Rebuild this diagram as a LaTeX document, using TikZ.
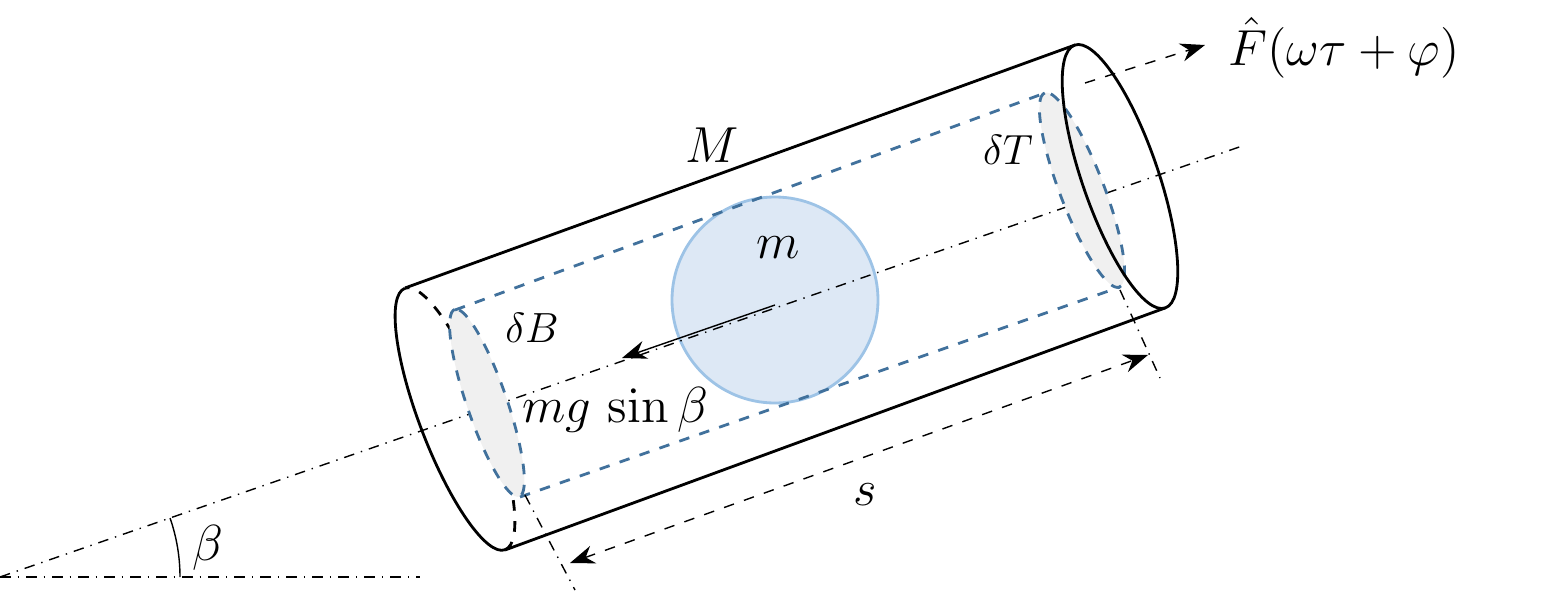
\documentclass[tikz,border=0pt]{standalone}
\usepackage{amsmath}
\usetikzlibrary{arrows.meta,positioning}
\definecolor{ballfill}{HTML}{DDE8F5}
\definecolor{balledge}{HTML}{9DC3E6}
\definecolor{innerblue}{HTML}{41719C}
\definecolor{capgray}{HTML}{F0F0F0}
\tikzset{
  axisline/.style={thin,dash dot},
  innerline/.style={innerblue,dashed,thick},
  outerline/.style={thick},
  lbl/.style={inner sep=0pt,font=\Large},
  dimarrow/.style={thin,dashed,-{Stealth[length=7pt]}}
}
\begin{document}
\begin{tikzpicture}[x=0.01cm,y=0.01cm]
\useasboundingbox (0,0) rectangle (1547,593);
% ball
\coordinate (ball) at (775,293);
\draw[fill=ballfill,draw=balledge,thick] (ball) circle[radius=103];

% axis and ground
\coordinate (o) at (0,16);
\coordinate (axend) at (1245,448);
\coordinate (gnd) at (420,16);
\draw[axisline] (o) -- (axend);
\draw[axisline] (o) -- (gnd);
\draw (180,16) arc[start angle=0,end angle=19.1,radius=180];
\node[lbl] (beta) at (208,45) {$\beta$};

% hidden half of the bottom rim
\begin{scope}[shift={(455,174)},rotate=111]
\draw[outerline,dashed] (180:140) arc[start angle=180,end angle=360,x radius=140,y radius=35];
\end{scope}

% inner caps
\begin{scope}[shift={(487,190)},rotate=109]
\fill[capgray] (0,0) ellipse[x radius=99,y radius=20];
\draw[innerline] (0,0) ellipse[x radius=99,y radius=20];
\end{scope}
\begin{scope}[shift={(1082,403)},rotate=111]
\fill[capgray] (0,0) ellipse[x radius=104,y radius=22];
\draw[innerline] (0,0) ellipse[x radius=104,y radius=22];
\end{scope}
\coordinate (ia) at (455,283);
\coordinate (ib) at (1045,500);
\coordinate (ic) at (520,96);
\coordinate (id) at (1120,306);
\draw[innerline] (ia) -- (ib);
\draw[innerline] (ic) -- (id);

\node[lbl] (m) at (778,345) {$m$};
\coordinate (g0) at (775,288);
\coordinate (g1) at (622,235);
\draw[-{Stealth[length=7pt]}] (g0) -- (g1);
\node[lbl] (mg) at (615,183) {$mg\,\sin\beta$};

% outer cylinder
\coordinate (a) at (405,305);
\coordinate (b) at (1075,548);
\coordinate (c) at (505,43);
\coordinate (d) at (1165,285);
\draw[outerline] (a) -- (b);
\draw[outerline] (c) -- (d);
\begin{scope}[shift={(455,174)},rotate=111]
\draw[outerline] (0:140) arc[start angle=0,end angle=180,x radius=140,y radius=35];
\end{scope}
\begin{scope}[shift={(1120,416.5)},rotate=109]
\draw[outerline] (0,0) ellipse[x radius=139,y radius=38];
\end{scope}

\node[lbl] (M) at (712,448) {$M$};
\node[lbl,font=\large] (dB) at (532,265) {$\delta B$};
\node[lbl,font=\large] (dT) at (1008,443) {$\delta T$};

% force
\coordinate (f0) at (1085,510);
\coordinate (f1) at (1205,548);
\draw[dimarrow] (f0) -- (f1);
\node[lbl,anchor=west] (F) at (1228,545) {$\hat{F}(\omega\tau+\varphi)$};

% dimension s
\coordinate (e0) at (525,98);
\coordinate (e1) at (575,3);
\coordinate (e2) at (1120,303);
\coordinate (e3) at (1160,215);
\draw[axisline] (e0) -- (e1);
\draw[axisline] (e2) -- (e3);
\coordinate (s0) at (570,30);
\coordinate (s1) at (1148,238);
\draw[thin,dashed,{Stealth[length=7pt]}-{Stealth[length=7pt]}] (s0) -- (s1);
\node[lbl] (s) at (865,98) {$s$};
\end{tikzpicture}
\end{document}
